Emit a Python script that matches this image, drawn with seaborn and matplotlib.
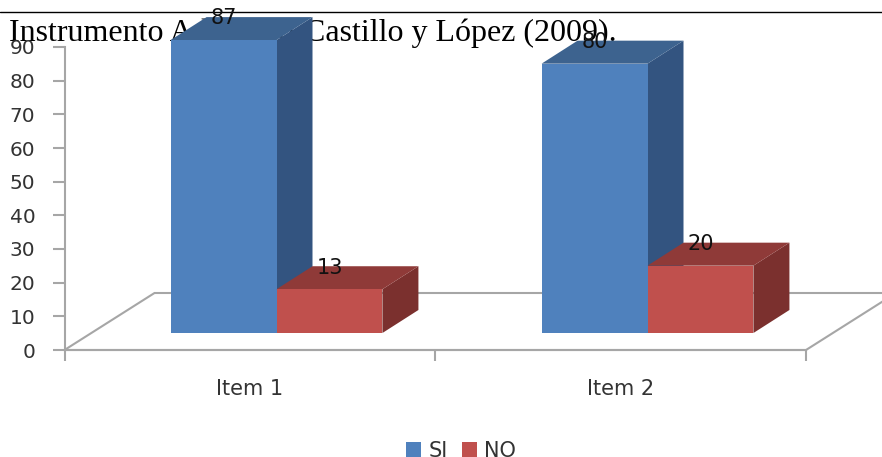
import matplotlib
matplotlib.use("Agg")
import matplotlib.pyplot as plt
from matplotlib.lines import Line2D
from matplotlib.patches import Polygon
import pandas as pd
import seaborn as sns

# Survey results per item
items = ["Item 1", "Item 2"]
si_values = [87, 80]
no_values = [13, 20]
answers = ["SI", "NO"]
y_ticks = [0, 10, 20, 30, 40, 50, 60, 70, 80, 90]
note_start = "Instrumento Adaptado"
note_end = "Castillo y López (2009)."

front_colors = {"SI": "#4F81BD", "NO": "#C0504D"}
top_colors = {"SI": "#3D638F", "NO": "#8F3A38"}
side_colors = {"SI": "#335480", "NO": "#7B302E"}
GRID = "#A6A6A6"
TEXT = "#333333"

W, H = 882, 457
sns.set_theme(style="white")
plt.rcParams["font.family"] = ["DejaVu Sans"]

fig = plt.figure(figsize=(W / 100, H / 100), dpi=100, facecolor="white")


def axes_from_pixels(left, right, bottom, top):
    """Create a transparent axes from pixel edges measured from the top-left."""
    ax = fig.add_axes([left / W, 1 - bottom / H, (right - left) / W, (bottom - top) / H])
    ax.patch.set_alpha(0)
    return ax


# Frame with the value axis and the category axis
frame = axes_from_pixels(64.5, 806, 350, 47)
frame.set_xlim(0, 2)
frame.set_ylim(0, 90)
frame.set_yticks(y_ticks)
frame.set_xticks([0, 1, 2])
frame.set_xticklabels([])
frame.set_xticks([0.5, 1.5], labels=items, minor=True)
frame.tick_params(axis="y", length=9, width=1.5, color=GRID, labelsize=14.5,
                  labelcolor=TEXT, pad=12, left=True)
frame.tick_params(axis="x", which="major", length=8, width=1.5, color=GRID, bottom=True)
frame.tick_params(axis="x", which="minor", length=0, labelsize=15, labelcolor=TEXT, pad=21)
sns.despine(ax=frame, top=True, right=True)
for side in ("left", "bottom"):
    frame.spines[side].set_color(GRID)
    frame.spines[side].set_linewidth(1.5)

# Floor of the 3D box, as a parallelogram behind the bars
floor_dx = 90 / 370.75
floor_dy = 57 / (303 / 90)
frame.add_patch(Polygon([(0, 0), (floor_dx, floor_dy), (2 + floor_dx, floor_dy), (2, 0)],
                        closed=True, fill=False, edgecolor=GRID, linewidth=1.5,
                        clip_on=False, zorder=1))

# Bars sit on a plane set back from the frame
bars_ax = axes_from_pixels(91, 833, 333, 30)
table = pd.DataFrame({
    "item": items * 2,
    "answer": [answers[0]] * len(items) + [answers[1]] * len(items),
    "percent": si_values + no_values,
})
sns.barplot(data=table, x="item", y="percent", hue="answer", hue_order=answers,
            palette=front_colors, saturation=1, width=0.571, gap=0, ax=bars_ax,
            linewidth=0, legend=True)
bars_ax.set_xlim(-0.5, 1.5)
bars_ax.set_ylim(0, 90)
bars_ax.axis("off")

depth_x = 36 / 371
depth_y = 23 / (303 / 90)
for level, (answer, container) in enumerate(zip(answers, bars_ax.containers)):
    for bar in container:
        x0, x1 = bar.get_x(), bar.get_x() + bar.get_width()
        top = bar.get_height()
        z = 2 + level
        bar.set_zorder(z + 0.5)
        bar.set_clip_on(False)
        bars_ax.add_patch(Polygon([(x1, 0), (x1 + depth_x, depth_y),
                                   (x1 + depth_x, top + depth_y), (x1, top)],
                                  closed=True, facecolor=side_colors[answer],
                                  linewidth=0, clip_on=False, zorder=z))
        bars_ax.add_patch(Polygon([(x0, top), (x0 + depth_x, top + depth_y),
                                   (x1 + depth_x, top + depth_y), (x1, top)],
                                  closed=True, facecolor=top_colors[answer],
                                  linewidth=0, clip_on=False, zorder=z))
        bars_ax.text((x0 + x1) / 2, top + depth_y - 0.4, f"{top:.0f}", ha="center", va="center",
                     fontsize=15, color="#111111", clip_on=False, zorder=6)

# Legend below the plot
handles, labels = bars_ax.get_legend_handles_labels()
bars_ax.get_legend().remove()
fig.legend(handles, labels, loc="center", bbox_to_anchor=(461 / W, 1 - 451 / H), ncol=2,
           frameon=False, fontsize=15, labelcolor=TEXT, handlelength=0.72, handleheight=0.72,
           handletextpad=0.35, columnspacing=0.7, borderpad=0)

# Rule and source note running behind the chart
fig.add_artist(Line2D([0, 1], [1 - 11.5 / H] * 2, color="black", linewidth=1, zorder=-2))
fig.text(9 / W, 1 - 41 / H, note_start, family="Liberation Serif", fontsize=23,
         color="black", ha="left", va="baseline", zorder=-1)
fig.text(617 / W, 1 - 41 / H, note_end, family="Liberation Serif", fontsize=23,
         color="black", ha="right", va="baseline", zorder=-1)

fig.savefig("out.png", dpi=100, facecolor="white")
